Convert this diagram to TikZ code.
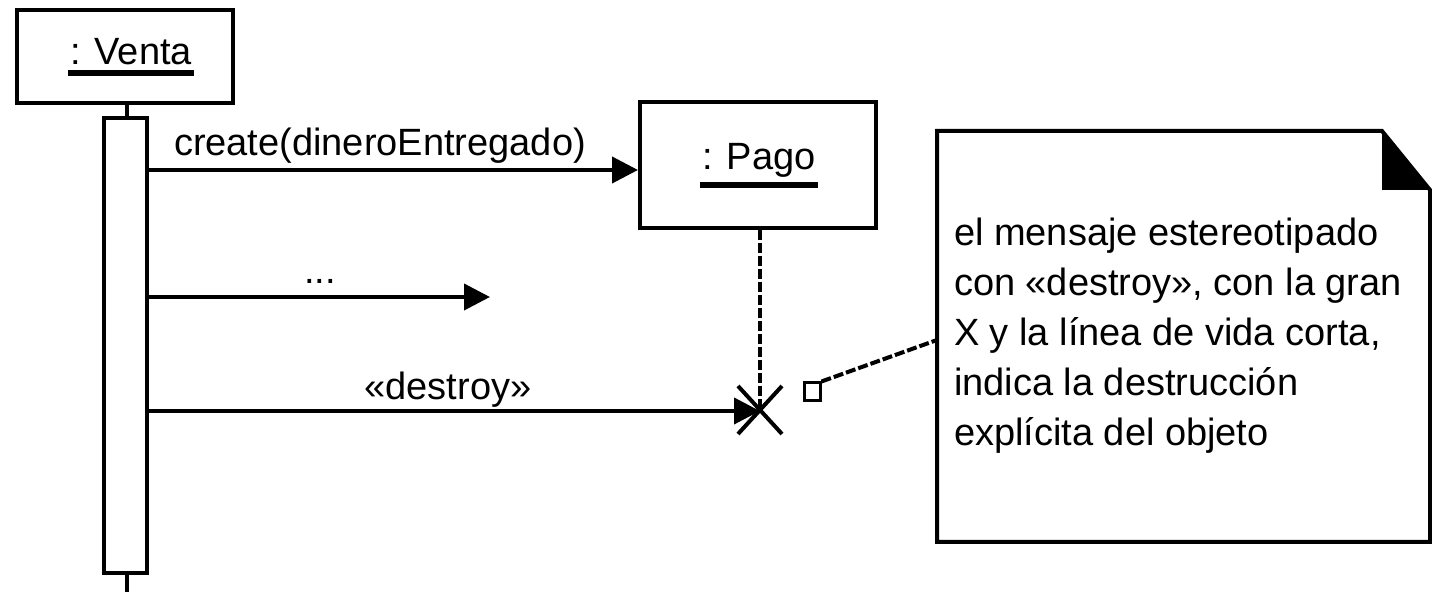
\documentclass[tikz,border=0pt]{standalone}
\usepackage{fontspec}
\setmainfont{Liberation Sans}
\usetikzlibrary{arrows.meta}
\begin{document}
\begin{tikzpicture}[x=0.5pt,y=-0.5pt,line width=2pt,
  font=\fontsize{19pt}{25pt}\selectfont,
  objbox/.style={draw,line width=2pt,inner sep=0pt},
  lbl/.style={inner sep=0pt},
  msg/.style={line width=2pt,-{Triangle[length=13pt,width=13pt]}},
  dsh/.style={line width=2pt,dash pattern=on 5pt off 1.5pt},
  uline/.style={line width=3pt}]
\useasboundingbox (0,0) rectangle (1432,592);
% Venta object
\node[objbox,minimum width=108pt,minimum height=46.5pt] (venta) at (125,56.5) {};
\node[lbl] (vt) at (131,52) {: Venta};
\draw[uline] ([yshift=-3pt]vt.south west) -- ([yshift=-3pt]vt.south east);
% activation bar
\node[objbox,minimum width=21.5pt,minimum height=227.5pt] (act) at (125.5,345.5) {};
\draw (venta.south -| 127,0) -- (act.north -| 127,0);
\coordinate (vend) at (127,592);
\draw (act.south -| 127,0) -- (vend);
% Pago object
\node[objbox,minimum width=118pt,minimum height=63pt] (pago) at (758,165) {};
\node[lbl] (pt) at (759,160) {: Pago};
\draw[uline] ([yshift=-3pt]pt.south west) -- ([yshift=-3pt]pt.south east);
% destruction X
\coordinate (xc) at (760,410);
\draw[dsh] (pago.south -| xc) -- (xc);
\draw (738,386) -- (782,434) (738,434) -- (782,386);
% messages
\coordinate (m1) at (147,170);
\draw[msg] (m1) -- (pago.west |- m1);
\node[lbl] (l1) at (380,146) {create(dineroEntregado)};
\coordinate (m2) at (147,297);
\coordinate (m2e) at (490,297);
\draw[msg] (m2) -- (m2e);
\node[lbl] (l2) at (320,281) {...};
\coordinate (m3) at (147,411);
\draw[msg] (m3) -- (xc |- m3);
\node[lbl] (l3) at (448,390) {«destroy»};
% note
\node[minimum width=246.5pt,minimum height=205.5pt,inner sep=0pt] (note) at (1183.5,336.5) {};
\draw (937,131) -- (1382,131) -- (1430,190) -- (1430,542) -- (937,542) -- cycle;
\fill (1382,131) -- (1382,190) -- (1430,190) -- cycle;
\node[lbl,anchor=west,align=left] (nt) at (952,336) {el mensaje estereotipado\\con «destroy», con la gran\\X y la línea de vida corta,\\indica la destrucción\\explícita del objeto};
% anchor marker and connector
\node[draw,line width=1.5pt,minimum width=8pt,minimum height=9pt,inner sep=0pt] (anc) at (812,392) {};
\coordinate (nl) at (937,340);
\draw[dsh] (anc.north east) -- (nl);
\end{tikzpicture}
\end{document}
